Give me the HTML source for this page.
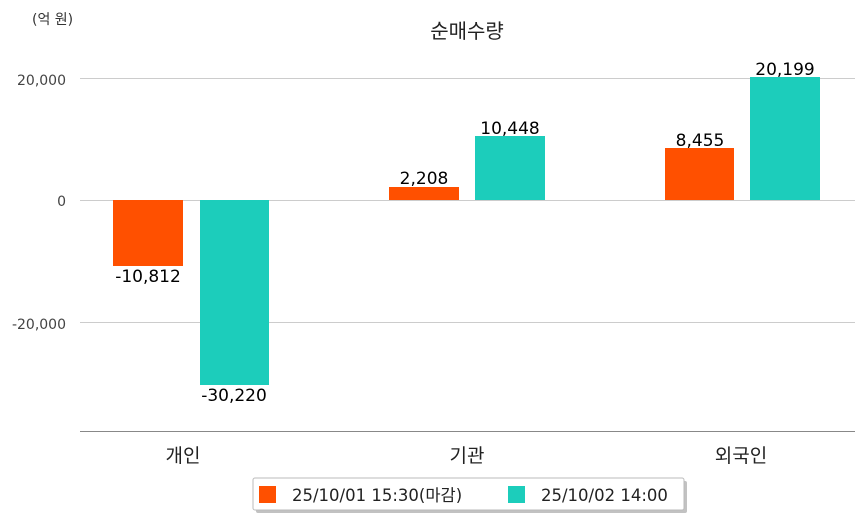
<!DOCTYPE html>
<html><head><meta charset="utf-8"><style>
body{margin:0;background:#fff;}
svg text{font-family:"DejaVu Sans","Noto Sans CJK KR",sans-serif;}
</style></head><body>
<svg width="863" height="520" viewBox="0 0 863 520" xmlns="http://www.w3.org/2000/svg">
<rect width="863" height="520" fill="#fff"/>
<text x="32" y="24" font-size="14" fill="#333">(억 원)</text>
<text x="467" y="38" font-size="20" fill="#222" text-anchor="middle">순매수량</text>
<g stroke="#ccc" stroke-width="1">
<line x1="80" y1="78.5" x2="855" y2="78.5"/>
<line x1="80" y1="200.5" x2="855" y2="200.5"/>
<line x1="80" y1="322.5" x2="855" y2="322.5"/>
</g>
<line x1="80" y1="431.5" x2="855" y2="431.5" stroke="#888" stroke-width="1"/>
<g font-size="14" fill="#444" text-anchor="end">
<text x="66" y="85">20,000</text>
<text x="66" y="206">0</text>
<text x="66" y="329">-20,000</text>
</g>
<rect x="113" y="200" width="70" height="66" fill="#ff5000"/>
<rect x="200" y="200" width="69" height="185" fill="#1ccdbb"/>
<rect x="389" y="187" width="70" height="13" fill="#ff5000"/>
<rect x="475" y="136" width="70" height="64" fill="#1ccdbb"/>
<rect x="665" y="148" width="69" height="52" fill="#ff5000"/>
<rect x="750" y="77" width="70" height="123" fill="#1ccdbb"/>
<g font-size="17" fill="#000" text-anchor="middle">
<text x="148" y="282">-10,812</text>
<text x="234" y="401">-30,220</text>
<text x="424" y="184">2,208</text>
<text x="510" y="134">10,448</text>
<text x="700" y="146">8,455</text>
<text x="785" y="75">20,199</text>
</g>
<g font-size="19" fill="#222" text-anchor="middle">
<text x="183" y="462">개인</text>
<text x="467" y="462">기관</text>
<text x="741" y="462">외국인</text>
</g>
<rect x="256" y="481" width="431" height="32" rx="2" fill="#999" opacity="0.6"/>
<rect x="253" y="478" width="431" height="32" rx="2" fill="#fff" stroke="#bbb"/>
<rect x="259" y="486" width="17" height="17" fill="#ff5000"/>
<text x="292" y="501" font-size="16.5" fill="#222">25/10/01 15:30(마감)</text>
<rect x="508" y="486" width="17" height="17" fill="#1ccdbb"/>
<text x="541" y="501" font-size="16.5" fill="#222">25/10/02 14:00</text>
</svg>
</body></html>
